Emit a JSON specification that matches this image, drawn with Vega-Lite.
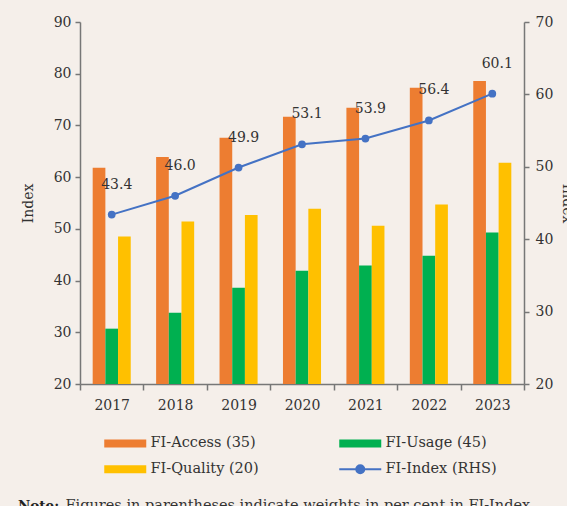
{
  "$schema": "https://vega.github.io/schema/vega-lite/v6.json",
  "width": 444,
  "height": 362,
  "autosize": {"type": "none"},
  "padding": {"left": 80, "top": 22, "right": 43, "bottom": 122},
  "background": "#f5efea",
  "config": {
    "view": {"stroke": null},
    "font": "DejaVu Serif",
    "axis": {
      "labelFont": "DejaVu Serif", "labelFontSize": 14, "labelColor": "#333333",
      "titleFont": "DejaVu Serif", "titleFontSize": 14, "titleFontWeight": "normal", "titleColor": "#333333",
      "domainColor": "#777777", "tickColor": "#777777", "grid": false, "domainWidth": 1.5, "tickWidth": 1.5
    }
  },
  "title": {
    "text": "Note:", "orient": "top", "anchor": "start", "frame": "group",
    "dx": -62, "dy": 501, "fontSize": 13.5, "fontWeight": "bold", "font": "DejaVu Serif", "color": "#222222"
  },
  "encoding": {
    "x": {
      "field": "year", "type": "ordinal",
      "scale": {"paddingInner": 0, "paddingOuter": 0},
      "axis": {
        "title": "Figures in parentheses indicate weights in per cent in FI-Index.",
        "titleAnchor": "start", "titleAlign": "left", "titleX": -15, "titleY": 125, "titleBaseline": "alphabetic",
        "titleFontSize": 14.5,
        "labelAngle": 0, "tickBand": "extent", "tickSize": 6, "labelPadding": 8
      }
    }
  },
  "layer": [
    {
      "data": {"values": [
        {"year": "2017", "series": "FI-Access (35)", "value": 61.8},
        {"year": "2017", "series": "FI-Usage (45)", "value": 30.7},
        {"year": "2017", "series": "FI-Quality (20)", "value": 48.5},
        {"year": "2018", "series": "FI-Access (35)", "value": 63.9},
        {"year": "2018", "series": "FI-Usage (45)", "value": 33.8},
        {"year": "2018", "series": "FI-Quality (20)", "value": 51.4},
        {"year": "2019", "series": "FI-Access (35)", "value": 67.6},
        {"year": "2019", "series": "FI-Usage (45)", "value": 38.6},
        {"year": "2019", "series": "FI-Quality (20)", "value": 52.7},
        {"year": "2020", "series": "FI-Access (35)", "value": 71.7},
        {"year": "2020", "series": "FI-Usage (45)", "value": 41.9},
        {"year": "2020", "series": "FI-Quality (20)", "value": 53.9},
        {"year": "2021", "series": "FI-Access (35)", "value": 73.4},
        {"year": "2021", "series": "FI-Usage (45)", "value": 42.9},
        {"year": "2021", "series": "FI-Quality (20)", "value": 50.6},
        {"year": "2022", "series": "FI-Access (35)", "value": 77.3},
        {"year": "2022", "series": "FI-Usage (45)", "value": 44.8},
        {"year": "2022", "series": "FI-Quality (20)", "value": 54.7},
        {"year": "2023", "series": "FI-Access (35)", "value": 78.6},
        {"year": "2023", "series": "FI-Usage (45)", "value": 49.3},
        {"year": "2023", "series": "FI-Quality (20)", "value": 62.8}
      ]},
      "mark": {"type": "bar", "clip": true},
      "encoding": {
        "xOffset": {
          "field": "series", "type": "nominal",
          "sort": ["FI-Access (35)", "FI-Usage (45)", "FI-Quality (20)"],
          "scale": {"paddingOuter": 1.08, "paddingInner": 0}
        },
        "y": {
          "field": "value", "type": "quantitative", "stack": null,
          "scale": {"domain": [20, 90], "nice": false, "zero": false},
          "axis": {"title": "Index", "values": [20, 30, 40, 50, 60, 70, 80, 90], "tickSize": 5, "labelPadding": 4, "titlePadding": 18}
        },
        "color": {
          "field": "series", "type": "nominal",
          "scale": {
            "domain": ["FI-Access (35)", "FI-Usage (45)", "FI-Quality (20)", "FI-Index (RHS)"],
            "range": ["#ED7D31", "#00B050", "#FFC000", "#4472C4"]
          },
          "legend": {
            "orient": "none", "legendX": 38, "legendY": 414,
            "columns": 2, "direction": "horizontal", "title": null,
            "labelFont": "DejaVu Serif", "labelFontSize": 14.5, "labelColor": "#333333",
            "symbolSize": 1600, "columnPadding": 76, "rowPadding": 11, "labelOffset": 18,
            "encode": {
              "symbols": {
                "update": {
                  "shape": {"signal": "datum.value === 'FI-Index (RHS)' ? 'M-1.05,0L1.05,0M-0.2,0A0.2,0.2,0,1,1,0.2,0A0.2,0.2,0,1,1,-0.2,0Z' : 'M-1.05,-0.2L1.05,-0.2L1.05,0.2L-1.05,0.2Z'"},
                  "fill": {"signal": "scale('color', datum.value)"},
                  "stroke": {"signal": "datum.value === 'FI-Index (RHS)' ? scale('color', datum.value) : 'transparent'"},
                  "strokeWidth": {"signal": "datum.value === 'FI-Index (RHS)' ? 2 : 0"},
                  "opacity": {"value": 1}
                }
              }
            }
          }
        }
      }
    },
    {
      "data": {"values": [
        {"year": "2017", "series": "FI-Index (RHS)", "index": 43.4},
        {"year": "2018", "series": "FI-Index (RHS)", "index": 46.0},
        {"year": "2019", "series": "FI-Index (RHS)", "index": 49.9},
        {"year": "2020", "series": "FI-Index (RHS)", "index": 53.1},
        {"year": "2021", "series": "FI-Index (RHS)", "index": 53.9},
        {"year": "2022", "series": "FI-Index (RHS)", "index": 56.4},
        {"year": "2023", "series": "FI-Index (RHS)", "index": 60.1}
      ]},
      "encoding": {
        "y": {
          "field": "index", "type": "quantitative",
          "scale": {"domain": [20, 70], "nice": false, "zero": false},
          "axis": {"orient": "right", "title": "Index", "values": [20, 30, 40, 50, 60, 70], "tickSize": 5, "labelPadding": 6, "titlePadding": 7}
        }
      },
      "layer": [
        {
          "mark": {"type": "line", "strokeWidth": 2, "point": {"filled": true, "size": 60}},
          "encoding": {"color": {"field": "series", "type": "nominal"}}
        },
        {
          "mark": {"type": "text", "dx": 5, "dy": -30, "fontSize": 14, "font": "DejaVu Serif", "color": "#333333"},
          "encoding": {"text": {"field": "index", "type": "quantitative", "format": ".1f"}}
        }
      ]
    }
  ],
  "resolve": {"scale": {"y": "independent"}}
}
